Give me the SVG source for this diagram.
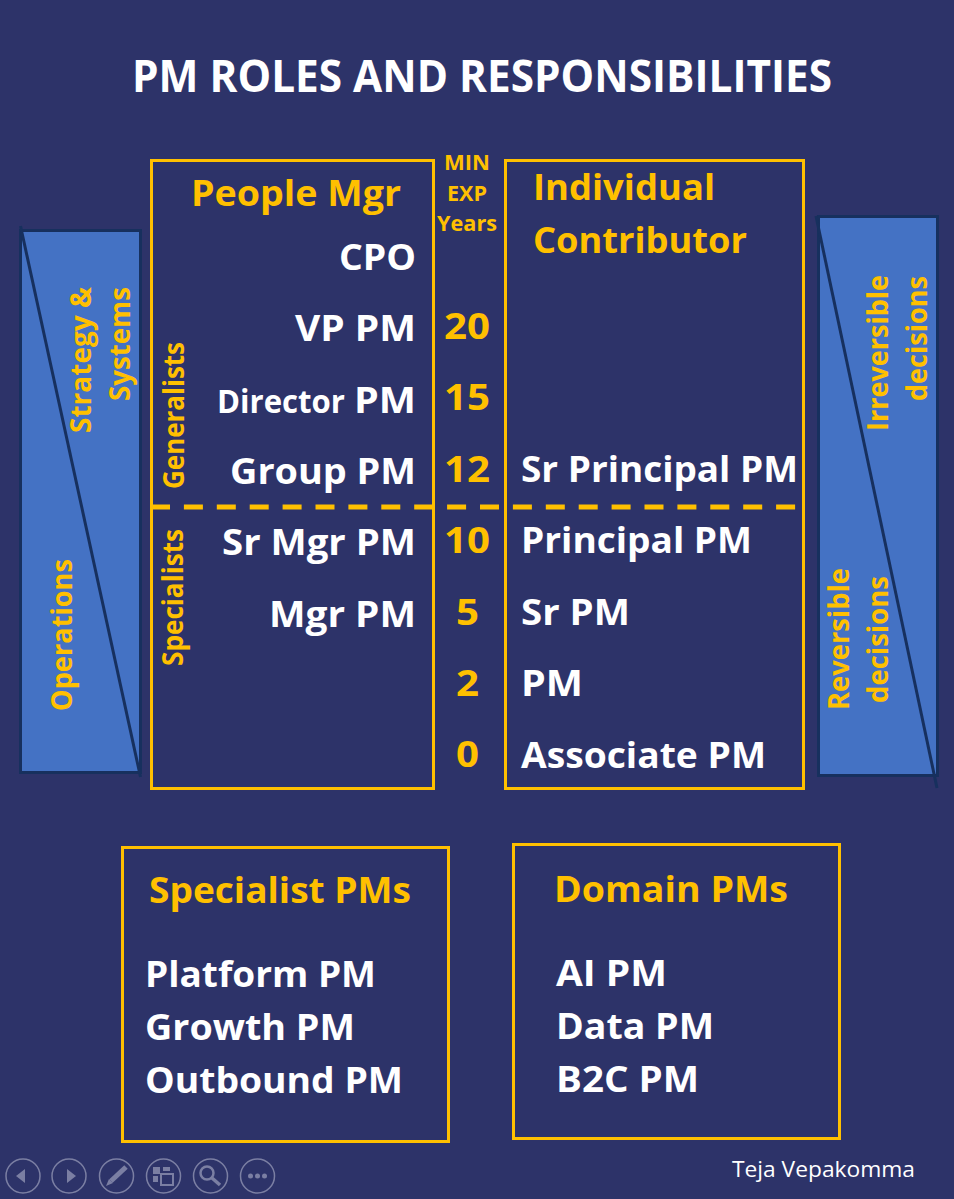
<svg xmlns="http://www.w3.org/2000/svg" width="954" height="1199" viewBox="0 0 954 1199">
<style>
text{font-family:"Open Sans","Noto Sans","DejaVu Sans",sans-serif;font-weight:700;fill:#fff;font-size:36px}
.y{fill:#ffc000}
.s{font-size:22px}
.r{font-size:29px}
.b{fill:none;stroke:#ffc000;stroke-width:3}
.p{fill:#4472c4;stroke:#17305e;stroke-width:3}
.d{fill:none;stroke:#17305e;stroke-width:3}
.c{fill:none;stroke:#7b7fa3;stroke-width:1.5}
.g{fill:#7b7fa3}
</style>
<rect width="954" height="1199" fill="#2d3369"/>
<text id="title" x="132" y="92" style="font-size:45px" textLength="700" lengthAdjust="spacingAndGlyphs">PM ROLES AND RESPONSIBILITIES</text>
<g id="left-panel">
<rect class="p" x="20.5" y="230.5" width="120" height="542"/>
<line class="d" x1="20.5" y1="226" x2="140.5" y2="777"/>
<text class="y r" transform="translate(91 433) rotate(-90)" textLength="146" lengthAdjust="spacingAndGlyphs">Strategy &amp;</text>
<text class="y r" transform="translate(130 401) rotate(-90)" textLength="114" lengthAdjust="spacingAndGlyphs">Systems</text>
<text class="y r" transform="translate(72 711) rotate(-90)" textLength="152" lengthAdjust="spacingAndGlyphs">Operations</text>
</g>
<g id="right-panel">
<rect class="p" x="818.5" y="216.5" width="119" height="559"/>
<line class="d" x1="816" y1="216" x2="937" y2="788"/>
<text class="y r" transform="translate(888 431) rotate(-90)" textLength="156" lengthAdjust="spacingAndGlyphs">Irreversible</text>
<text class="y r" transform="translate(927 401) rotate(-90)" textLength="125" lengthAdjust="spacingAndGlyphs">decisions</text>
<text class="y r" transform="translate(849 710) rotate(-90)" textLength="142" lengthAdjust="spacingAndGlyphs">Reversible</text>
<text class="y r" transform="translate(888 703) rotate(-90)" textLength="127" lengthAdjust="spacingAndGlyphs">decisions</text>
</g>
<g id="people-mgr">
<rect class="b" x="151.5" y="160.5" width="282" height="628"/>
<text class="y" x="191" y="206" textLength="210" lengthAdjust="spacingAndGlyphs">People Mgr</text>
<text x="339" y="270" textLength="77" lengthAdjust="spacingAndGlyphs">CPO</text>
<text x="295" y="341" textLength="121" lengthAdjust="spacingAndGlyphs">VP PM</text>
<text x="217" y="413" style="font-size:32px" textLength="128" lengthAdjust="spacingAndGlyphs">Director</text>
<text x="354" y="413" textLength="62" lengthAdjust="spacingAndGlyphs">PM</text>
<text x="230" y="484" textLength="186" lengthAdjust="spacingAndGlyphs">Group PM</text>
<text x="222" y="555" textLength="194" lengthAdjust="spacingAndGlyphs">Sr Mgr PM</text>
<text x="269" y="627" textLength="147" lengthAdjust="spacingAndGlyphs">Mgr PM</text>
<text class="y r" transform="translate(184 489) rotate(-90)" textLength="147" lengthAdjust="spacingAndGlyphs">Generalists</text>
<text class="y r" transform="translate(183 666) rotate(-90)" textLength="137" lengthAdjust="spacingAndGlyphs">Specialists</text>
</g>
<g id="min-exp">
<text class="y s" x="444" y="170" textLength="46" lengthAdjust="spacingAndGlyphs">MIN</text>
<text class="y s" x="447" y="201" textLength="40" lengthAdjust="spacingAndGlyphs">EXP</text>
<text class="y s" x="437" y="231" textLength="60" lengthAdjust="spacingAndGlyphs">Years</text>
<text class="y" x="444" y="339" textLength="46" lengthAdjust="spacingAndGlyphs">20</text>
<text class="y" x="444" y="410" textLength="46" lengthAdjust="spacingAndGlyphs">15</text>
<text class="y" x="444" y="482" textLength="46" lengthAdjust="spacingAndGlyphs">12</text>
<text class="y" x="444" y="553" textLength="46" lengthAdjust="spacingAndGlyphs">10</text>
<text class="y" x="456" y="625" textLength="23" lengthAdjust="spacingAndGlyphs">5</text>
<text class="y" x="456" y="696" textLength="23" lengthAdjust="spacingAndGlyphs">2</text>
<text class="y" x="456" y="767" textLength="23" lengthAdjust="spacingAndGlyphs">0</text>
</g>
<g id="individual-contributor">
<rect class="b" x="505.5" y="160.5" width="298" height="628"/>
<text class="y" x="533" y="200" textLength="182" lengthAdjust="spacingAndGlyphs">Individual</text>
<text class="y" x="533" y="253" textLength="214" lengthAdjust="spacingAndGlyphs">Contributor</text>
<text x="521" y="482" textLength="277" lengthAdjust="spacingAndGlyphs">Sr Principal PM</text>
<text x="521" y="553" textLength="231" lengthAdjust="spacingAndGlyphs">Principal PM</text>
<text x="521" y="625" textLength="109" lengthAdjust="spacingAndGlyphs">Sr PM</text>
<text x="521" y="696" textLength="62" lengthAdjust="spacingAndGlyphs">PM</text>
<text x="521" y="768" textLength="245" lengthAdjust="spacingAndGlyphs">Associate PM</text>
</g>
<g id="connectors">
<line x1="151" y1="507" x2="797" y2="507" stroke="#ffc000" stroke-width="5" stroke-dasharray="19 13.9"/>
</g>
<g id="specialist-pms">
<rect class="b" x="122.5" y="847.5" width="326" height="294"/>
<text class="y" x="149" y="903" textLength="262" lengthAdjust="spacingAndGlyphs">Specialist PMs</text>
<text x="145" y="987" textLength="231" lengthAdjust="spacingAndGlyphs">Platform PM</text>
<text x="145" y="1040" textLength="210" lengthAdjust="spacingAndGlyphs">Growth PM</text>
<text x="145" y="1093" textLength="258" lengthAdjust="spacingAndGlyphs">Outbound PM</text>
</g>
<g id="domain-pms">
<rect class="b" x="513.5" y="844.5" width="326" height="294"/>
<text class="y" x="554" y="902" textLength="234" lengthAdjust="spacingAndGlyphs">Domain PMs</text>
<text x="556" y="986" textLength="111" lengthAdjust="spacingAndGlyphs">AI PM</text>
<text x="556" y="1039" textLength="158" lengthAdjust="spacingAndGlyphs">Data PM</text>
<text x="556" y="1092" textLength="143" lengthAdjust="spacingAndGlyphs">B2C PM</text>
</g>
<text id="author" x="732" y="1177" style="font-size:21px;font-weight:400" textLength="183" lengthAdjust="spacingAndGlyphs">Teja Vepakomma</text>
<g id="controls">
<circle class="c" cx="23" cy="1176" r="17"/><path class="g" d="M16 1176l9-7v14z"/>
<circle class="c" cx="69" cy="1176" r="17"/><path class="g" d="M76 1176l-9-7v14z"/>
<circle class="c" cx="116.500" cy="1176" r="17"/><path d="M111 1181l15-14" fill="none" stroke="#7b7fa3" stroke-width="5"/><path d="M106 1186l3-7 4 4z" class="g"/>
<circle class="c" cx="163.500" cy="1176" r="17"/><path class="g" d="M153 1167h7v7h-7zM163 1167h7v4h-7zM153 1176h5v6h-5z"/><rect x="161" y="1174" width="12" height="11" fill="none" stroke="#7b7fa3" stroke-width="2"/>
<circle class="c" cx="210.500" cy="1176" r="17"/><circle cx="207" cy="1173" r="6.500" fill="none" stroke="#7b7fa3" stroke-width="2.500"/><path d="M212 1178l8 7" fill="none" stroke="#7b7fa3" stroke-width="3.500"/>
<circle class="c" cx="257.500" cy="1176" r="17"/><circle class="g" cx="250.500" cy="1176" r="2.500"/><circle class="g" cx="257.500" cy="1176" r="2.500"/><circle class="g" cx="264.500" cy="1176" r="2.500"/>
</g>
</svg>
